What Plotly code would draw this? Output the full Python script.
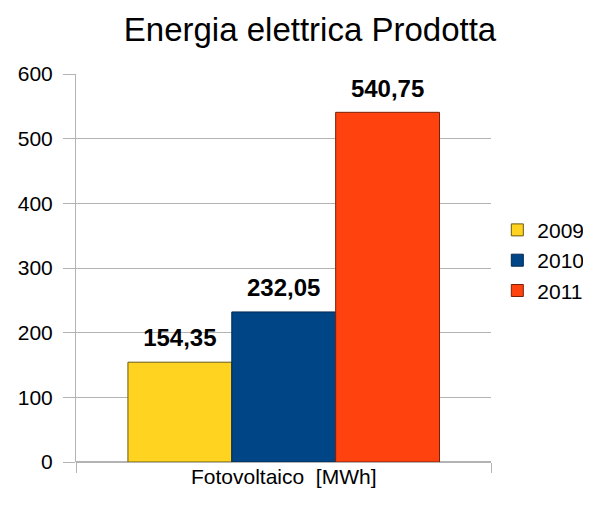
import plotly.graph_objects as go

_GRID = "#b3b3b3"
_FAM = "Liberation Sans, Arial, sans-serif"

categoria = ["Fotovoltaico\u00a0\u00a0[MWh]"]
anni = ["2009", "2010", "2011"]
valori = [154.35, 232.05, 540.75]
colori = ["#ffd320", "#004586", "#ff420e"]
bordi = ["#6b5a10", "#002a52", "#7a2008"]


def _it(v):
    return f"{v:.2f}".replace(".", ",")


fig = go.Figure()
for anno, val, col, bd in zip(anni, valori, colori, bordi):
    fig.add_trace(go.Bar(
        x=categoria, y=[val], name=anno,
        marker=dict(color=col, line=dict(color=bd, width=1)),
        legendgroup=anno,
    ))
# etichette dei valori, sopra le barre
for anno, val in zip(anni, valori):
    fig.add_trace(go.Scatter(
        x=categoria, y=[val], mode="markers+text", text=[_it(val)],
        textposition="top center", cliponaxis=False,
        marker=dict(size=14, opacity=0),
        textfont=dict(family=_FAM, size=24, color="#000", weight="bold"),
        showlegend=False, hoverinfo="skip", legendgroup=anno,
    ))

fig.update_layout(
    width=591, height=505,
    paper_bgcolor="white", plot_bgcolor="white",
    font=dict(family=_FAM, color="#000", size=21),
    margin=dict(l=68, r=10, t=66, b=51),
    barmode="group", bargap=0.25, bargroupgap=0,
    scattermode="group", scattergap=0.25,
    title=dict(text="Energia elettrica Prodotta", x=0.511, xanchor="center",
               y=0.958, yanchor="middle", font=dict(size=33, color="#000")),
    xaxis=dict(type="category", range=[-0.5, 0.5], tickson="boundaries",
               domain=[0, 0.813],
               ticks="outside", ticklen=10, tickcolor=_GRID,
               showgrid=True, gridcolor=_GRID, showline=False,
               tickfont=dict(size=21), zeroline=False),
    yaxis=dict(range=[0, 600], dtick=100, ticks="outside", ticklen=12,
               tickcolor=_GRID, gridcolor=_GRID, showline=True, linecolor=_GRID,
               zeroline=True, zerolinecolor=_GRID, tickfont=dict(size=21),
               ticklabelstandoff=6),
    legend=dict(x=0.8245, xanchor="left", y=0.52, yanchor="middle",
                font=dict(size=21), tracegroupgap=5, traceorder="normal"),
)

fig.write_html("out.html")
